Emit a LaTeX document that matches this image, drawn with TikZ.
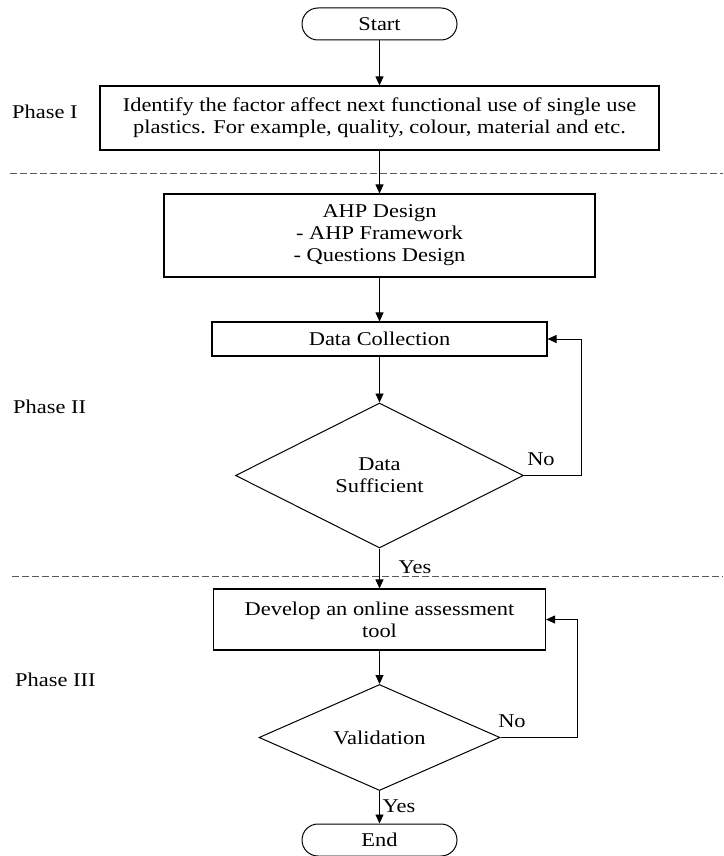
\documentclass[tikz,border=0pt]{standalone}
\usepackage{fontspec}
\setmainfont{Liberation Serif}[FakeStretch=1.15]
\usetikzlibrary{arrows.meta,shapes.geometric}
\begin{document}
\begin{tikzpicture}[x=1pt,y=-1pt,
  every node/.style={font=\fontsize{19.5}{22}\selectfont, inner sep=0pt},
  procbox/.style={draw, line width=1.1pt, rectangle, align=center},
  term/.style={draw, line width=1pt, rectangle, rounded corners=16pt, minimum height=32pt},
  decision/.style={draw, line width=1pt, diamond, align=center},
  arr/.style={draw, line width=0.9pt, -{Triangle[length=9pt,width=8pt]}},
  sep/.style={draw=black!65, line width=0.8pt, dash pattern=on 6.5pt off 3.5pt},
  lbl/.style={anchor=west}
]
\useasboundingbox (0,0) rectangle (723,856);

% nodes
\node[term, minimum width=155pt] (start) at (379.5,24) {Start};
\node[procbox, minimum width=559pt, minimum height=64pt] (p1) at (379.5,118)
  {Identify the factor affect next functional use of single use\\plastics. For example, quality, colour, material and etc.};
\node[procbox, minimum width=431pt, minimum height=83pt] (ahp) at (379.5,235.5)
  {AHP Design\\- AHP Framework\\- Questions Design};
\node[procbox, minimum width=335pt, minimum height=34pt] (dc) at (379.5,339) {Data Collection};
\node[decision, minimum width=288pt, minimum height=145pt] (d1) at (379.5,475.5) {Data\\Sufficient};
\node[procbox, minimum width=332pt, minimum height=61pt] (dev) at (379.5,619.5)
  {Develop an online assessment\\tool};
\node[decision, minimum width=241pt, minimum height=89pt] (d2) at (379.5,737.5) {Validation};
\node[term, minimum width=155pt] (stop) at (379.5,840) {End};

% phase labels
\node[lbl] (ph1) at (12,112) {Phase I};
\node[lbl] (ph2) at (13,407) {Phase II};
\node[lbl] (ph3) at (15,680) {Phase III};

% separators
\coordinate (s1a) at (10,173.5);
\coordinate (s1b) at (723,173.5);
\coordinate (s2a) at (12,576.5);
\coordinate (s2b) at (723,576.5);
\draw[sep] (s1a) -- (s1b);
\draw[sep] (s2a) -- (s2b);

% connectors
\draw[arr] (start) -- (p1);
\draw[arr] (p1) -- (ahp);
\draw[arr] (ahp) -- (dc);
\draw[arr] (dc) -- (d1);
\draw[arr] (d1) -- (dev);
\draw[arr] (dev) -- (d2);
\draw[arr] (d2) -- (stop);

\coordinate (r1) at (581.5,400);
\coordinate (r2) at (577.5,700);
\draw[arr] (d1.east) -- (d1.east -| r1) |- (dc.east);
\draw[arr] (d2.east) -- (d2.east -| r2) |- (dev.east);

% yes / no labels
\node (no1) at (541,459) {No};
\node (yes1) at (415,567) {Yes};
\node (no2) at (512,721) {No};
\node (yes2) at (399,806) {Yes};
\end{tikzpicture}
\end{document}
